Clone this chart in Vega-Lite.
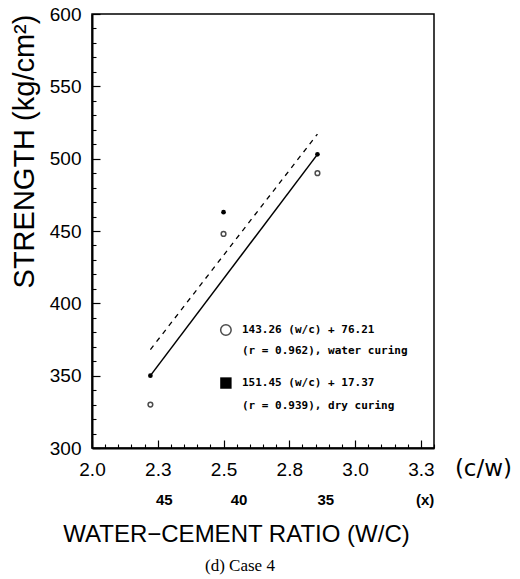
{
  "$schema": "https://vega.github.io/schema/vega-lite/v6.json",
  "width": 342,
  "height": 434,
  "autosize": "none",
  "padding": {"left": 92, "top": 14, "right": 86, "bottom": 131},
  "background": "white",
  "config": {
    "view": {"stroke": "black", "strokeWidth": 1.5},
    "axis": {"domainColor": "black", "tickColor": "black", "labelColor": "black", "titleColor": "black", "grid": false}
  },
  "resolve": {"axis": {"x": "independent", "y": "independent"}},
  "datasets": {
    "points": [
      {"curing": "water", "cw": 2.222, "strength": 330},
      {"curing": "water", "cw": 2.5, "strength": 448},
      {"curing": "water", "cw": 2.857, "strength": 490},
      {"curing": "dry", "cw": 2.222, "strength": 350},
      {"curing": "dry", "cw": 2.5, "strength": 463},
      {"curing": "dry", "cw": 2.857, "strength": 503}
    ],
    "lines": [
      {"line": "solid", "cw": 2.222, "strength": 350},
      {"line": "solid", "cw": 2.857, "strength": 503},
      {"line": "dashed", "cw": 2.222, "strength": 368},
      {"line": "dashed", "cw": 2.857, "strength": 517}
    ],
    "legendSymbols": [
      {"curing": "water", "cw": 2.509, "strength": 381.6},
      {"curing": "dry", "cw": 2.509, "strength": 344.9}
    ],
    "legendText": [
      {"cw": 2.57, "strength": 381.6, "text": "143.26 (w/c) + 76.21"},
      {"cw": 2.57, "strength": 367.1, "text": "(r = 0.962), water curing"},
      {"cw": 2.57, "strength": 344.9, "text": "151.45 (w/c) + 17.37"},
      {"cw": 2.57, "strength": 329.0, "text": "(r = 0.939), dry curing"}
    ],
    "ratioLabels": [
      {"cw": 2.275, "strength": 264.1, "text": "45"},
      {"cw": 2.559, "strength": 264.1, "text": "40"},
      {"cw": 2.889, "strength": 264.1, "text": "35"},
      {"cw": 3.266, "strength": 264.1, "text": "(x)"}
    ],
    "unitLabel": [
      {"cw": 3.488, "strength": 285.5, "text": "(c/w)"}
    ],
    "caption": [
      {"cw": 2.5625, "strength": 218.4, "text": "(d) Case 4"}
    ]
  },
  "layer": [
    {
      "data": {"name": "lines"},
      "transform": [{"filter": "datum.line === 'solid'"}],
      "mark": {"type": "line", "color": "black", "strokeWidth": 1.5},
      "encoding": {
        "x": {
          "field": "cw", "type": "quantitative",
          "scale": {"domain": [2.0, 3.3], "nice": false, "zero": false},
          "axis": {
            "orient": "bottom",
            "title": "WATER\u2212CEMENT RATIO  (W/C)",
            "titleFont": "Liberation Sans", "titleFontSize": 24, "titleFontWeight": "normal",
            "titleX": 144, "titleY": 86, "titleAlign": "center", "titleBaseline": "middle",
            "values": [2.0, 2.25, 2.5, 2.75, 3.0, 3.25],
            "format": ".1f",
            "labelOverlap": false,
            "labelFlush": false,
            "labelFont": "Liberation Sans", "labelFontSize": 19,
            "labelPadding": 29,
            "labelBaseline": "middle",
            "tickSize": -8,
            "tickWidth": 1.2,
            "domainWidth": 2
          }
        },
        "y": {
          "field": "strength", "type": "quantitative",
          "scale": {"domain": [300, 600], "nice": false, "zero": false},
          "axis": {
            "orient": "left",
            "title": "STRENGTH  (kg/cm\u00b2)",
            "titleFont": "Liberation Sans", "titleFontSize": 29, "titleFontWeight": "normal",
            "titleAngle": -90, "titleX": -68, "titleY": 137, "titleAlign": "center", "titleBaseline": "middle",
            "values": [300, 350, 400, 450, 500, 550, 600],
            "labelOverlap": false,
            "labelFlush": false,
            "labelFont": "Liberation Sans", "labelFontSize": 19,
            "labelPadding": 19,
            "tickSize": -8,
            "tickWidth": 1.2,
            "domainWidth": 2
          }
        }
      }
    },
    {
      "data": {"name": "lines"},
      "transform": [{"filter": "datum.line === 'dashed'"}],
      "mark": {"type": "line", "color": "black", "strokeWidth": 1.3, "strokeDash": [5, 5]},
      "encoding": {
        "x": {
          "field": "cw", "type": "quantitative",
          "axis": {
            "orient": "bottom", "title": null, "labels": false, "domain": false,
            "values": [2.05, 2.1, 2.15, 2.2, 2.3, 2.35, 2.4, 2.45, 2.55, 2.6, 2.65, 2.7, 2.8, 2.85, 2.9, 2.95, 3.05, 3.1, 3.15, 3.2, 3.3],
            "tickSize": -4, "tickWidth": 1.1
          }
        },
        "y": {
          "field": "strength", "type": "quantitative",
          "axis": {
            "orient": "left", "title": null, "labels": false, "domain": false,
            "values": [310, 320, 330, 340, 360, 370, 380, 390, 410, 420, 430, 440, 460, 470, 480, 490, 510, 520, 530, 540, 560, 570, 580, 590],
            "tickSize": -4, "tickWidth": 1.1
          }
        }
      }
    },
    {
      "data": {"name": "points"},
      "transform": [{"filter": "datum.curing === 'water'"}],
      "mark": {"type": "point", "shape": "circle", "filled": false, "color": "black", "strokeWidth": 1.5, "size": 22},
      "encoding": {
        "x": {"field": "cw", "type": "quantitative", "axis": null},
        "y": {"field": "strength", "type": "quantitative", "axis": null}
      }
    },
    {
      "data": {"name": "points"},
      "transform": [{"filter": "datum.curing === 'dry'"}],
      "mark": {"type": "point", "shape": "circle", "filled": true, "color": "black", "opacity": 1, "size": 22},
      "encoding": {
        "x": {"field": "cw", "type": "quantitative", "axis": null},
        "y": {"field": "strength", "type": "quantitative", "axis": null}
      }
    },
    {
      "data": {"name": "legendSymbols"},
      "transform": [{"filter": "datum.curing === 'water'"}],
      "mark": {"type": "point", "shape": "circle", "filled": false, "color": "black", "strokeWidth": 1.5, "size": 110},
      "encoding": {
        "x": {"field": "cw", "type": "quantitative", "axis": null},
        "y": {"field": "strength", "type": "quantitative", "axis": null}
      }
    },
    {
      "data": {"name": "legendSymbols"},
      "transform": [{"filter": "datum.curing === 'dry'"}],
      "mark": {"type": "point", "shape": "square", "filled": true, "color": "black", "opacity": 1, "size": 130},
      "encoding": {
        "x": {"field": "cw", "type": "quantitative", "axis": null},
        "y": {"field": "strength", "type": "quantitative", "axis": null}
      }
    },
    {
      "data": {"name": "legendText"},
      "mark": {"type": "text", "align": "left", "baseline": "middle", "font": "DejaVu Sans Mono", "fontWeight": "bold", "fontSize": 11, "color": "black"},
      "encoding": {
        "x": {"field": "cw", "type": "quantitative", "axis": null},
        "y": {"field": "strength", "type": "quantitative", "axis": null},
        "text": {"field": "text"}
      }
    },
    {
      "data": {"name": "ratioLabels"},
      "mark": {"type": "text", "align": "center", "baseline": "middle", "font": "Liberation Sans", "fontWeight": "bold", "fontSize": 15, "color": "black"},
      "encoding": {
        "x": {"field": "cw", "type": "quantitative", "axis": null},
        "y": {"field": "strength", "type": "quantitative", "axis": null},
        "text": {"field": "text"}
      }
    },
    {
      "data": {"name": "unitLabel"},
      "mark": {"type": "text", "align": "center", "baseline": "middle", "font": "DejaVu Sans", "fontSize": 23, "color": "black"},
      "encoding": {
        "x": {"field": "cw", "type": "quantitative", "axis": null},
        "y": {"field": "strength", "type": "quantitative", "axis": null},
        "text": {"field": "text"}
      }
    },
    {
      "data": {"name": "caption"},
      "mark": {"type": "text", "align": "center", "baseline": "middle", "font": "Liberation Serif", "fontSize": 17, "color": "black"},
      "encoding": {
        "x": {"field": "cw", "type": "quantitative", "axis": null},
        "y": {"field": "strength", "type": "quantitative", "axis": null},
        "text": {"field": "text"}
      }
    }
  ]
}
